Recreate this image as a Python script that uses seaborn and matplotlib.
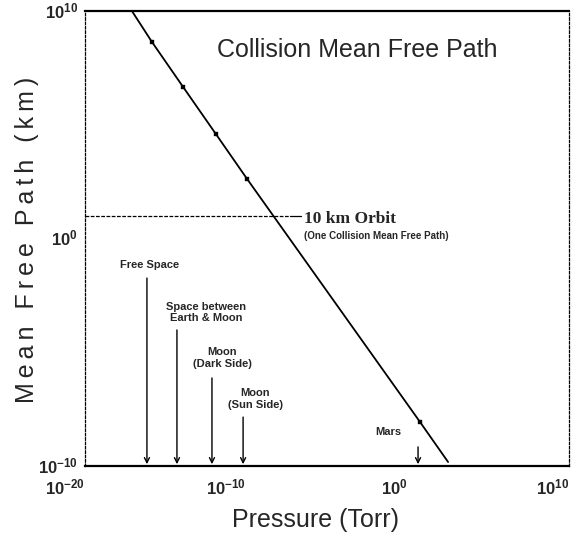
import matplotlib
matplotlib.use('Agg')
import matplotlib.pyplot as plt
import numpy as np
import pandas as pd
import seaborn as sns

# mean free path curve (pressure in Torr, path in km)
line_pressure = [8.1e-18, 1.4e-16, 1.2e-14, 1.3e-12, 1.1e-10, 5.9, 320]
line_mfp = [1e10, 4.4e8, 4.6e6, 3.9e4, 420, 8.5e-9, 1.5e-10]

marker_pressure = [1.4e-16, 1.2e-14, 1.3e-12, 1.1e-10, 5.9]
marker_mfp = [4.4e8, 4.6e6, 3.9e4, 420, 8.5e-9]

# environments pointed at on the pressure axis
env_names = ['Free Space', 'Space between\nEarth & Moon', 'Moon\n(Dark Side)',
             'Moon\n(Sun Side)', 'Mars']
env_pressure = [6.9e-17, 5.0e-15, 7.4e-13, 6.3e-11, 4.4]

orbit_mfp = 10  # km

x_ticks = [1e-20, 1e-10, 1e0, 1e10]
x_tick_labels = ['$10^{-20}$', '$10^{-10}$', '$10^{0}$', '$10^{10}$']
y_ticks = [1e-10, 1e0, 1e10]
y_tick_labels = ['$10^{-10}$', '$10^{0}$', '$10^{10}$']

sns.set_style('white')
plt.rcParams['font.family'] = ['Liberation Sans', 'DejaVu Sans']
plt.rcParams['mathtext.default'] = 'regular'

fig = plt.figure(figsize=(5.78, 5.39), dpi=100)
ax = fig.add_axes([85 / 578, 73 / 539, 484 / 578, 455 / 539])

df = pd.DataFrame({'pressure': line_pressure, 'mfp': line_mfp})
sns.lineplot(data=df, x='pressure', y='mfp', color='black', lw=1.3, ax=ax)
sns.scatterplot(x=marker_pressure, y=marker_mfp, marker='s', s=10,
                color='black', edgecolor='black', ax=ax, zorder=3)

ax.set_xscale('log')
ax.set_yscale('log')
ax.set_xlim(1e-20, 1e10)
ax.set_ylim(1e-10, 1e10)
ax.minorticks_off()
ax.set_xticks(x_ticks)
ax.set_xticklabels(x_tick_labels, ha='right', fontsize=12, fontweight='bold')
ax.set_yticks(y_ticks)
ax.set_yticklabels(y_tick_labels, va='center', fontsize=12, fontweight='bold')
ax.tick_params(length=0, pad=5)
ax.tick_params(axis='x', pad=8)

for s in ['top', 'bottom']:
    ax.spines[s].set_color('black')
    ax.spines[s].set_linewidth(1.6)
for s in ['left', 'right']:
    ax.spines[s].set_color('black')
    ax.spines[s].set_linewidth(0.9)
    ax.spines[s].set_linestyle((0, (2, 1.5)))

# 10 km orbit line
ax.plot([1e-20, 10 ** -7.3], [orbit_mfp, orbit_mfp], color='black', lw=0.9,
        ls=(0, (3, 1.2)))
ax.plot([10 ** -7.3, 10 ** -6.6], [orbit_mfp, orbit_mfp], color='black', lw=0.9)
ax.text(10 ** -6.45, 10 ** 0.86, '10 km Orbit', family='Liberation Serif',
        fontweight='bold', fontsize=12.5, ha='left', va='center')
ax.text(10 ** -6.45, 10 ** 0.11, '(One Collision Mean Free Path)',
        fontweight='bold', fontsize=7, ha='left', va='center')

# arrows to the pressure axis
arrow_top = [10 ** -1.74, 10 ** -4.02, 10 ** -6.13, 10 ** -7.85, 10 ** -9.16]
label_pos = [(10 ** -15.97, 10 ** -1.165), (10 ** -12.5, 10 ** -3.25),
             (10 ** -11.51, 10 ** -5.25), (10 ** -9.46, 10 ** -7.05),
             (10 ** -1.22, 10 ** -8.5)]
for name, p, top, (tx, ty) in zip(env_names, env_pressure, arrow_top, label_pos):
    ax.annotate('', xy=(p, 1.2e-10), xytext=(p, top),
                arrowprops=dict(arrowstyle='->', color='black', lw=1.0,
                                shrinkA=0, shrinkB=0, mutation_scale=9))
    ax.text(tx, ty, name, ha='center', va='center', fontsize=8,
            fontweight='bold', linespacing=1.2)

ax.text(0.562, 0.914, 'Collision Mean Free Path', transform=ax.transAxes,
        ha='center', va='center', fontsize=18)

# the y label in the original is letter-spaced
ylabel = 'Mean Free Path (km)'
ax.set_xlabel('Pressure (Torr)', fontsize=18)
ax.set_ylabel('\u2009'.join(ylabel), fontsize=18)
ax.xaxis.set_label_coords(0.477, -0.119)
ax.xaxis.label.set_va('center')
ax.yaxis.set_label_coords(-0.12, 0.497)
ax.yaxis.label.set_va('center')

fig.savefig('out.png', dpi=100)
